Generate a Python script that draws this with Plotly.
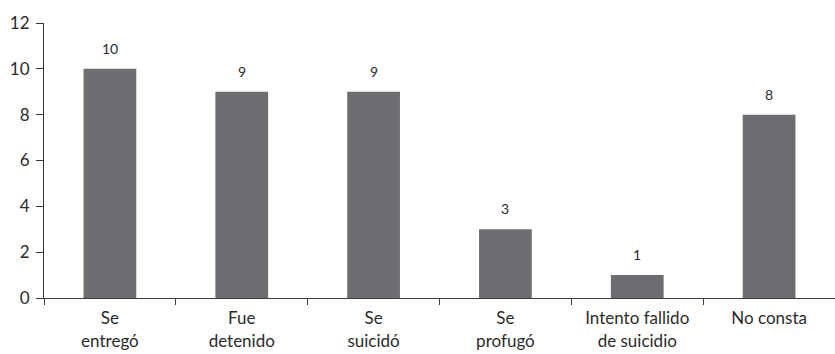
import plotly.graph_objects as go

categories = ["Se<br>entregó", "Fue<br>detenido", "Se<br>suicidó", "Se<br>profugó",
              "Intento fallido<br>de suicidio", "No consta"]
values = [10, 9, 9, 3, 1, 8]
y_ticks = [0, 2, 4, 6, 8, 10, 12]

FONT = "Lato, Noto Sans, sans-serif"
BAR = "#6d6e71"
AXIS = "#3a3a3a"
TXT = "#2b2b2b"

fig = go.Figure()
fig.add_trace(go.Bar(x=categories, y=values, marker_color=BAR, width=0.4,
                     marker_line_width=0, hoverinfo="skip"))
for c, v in zip(categories, values):
    fig.add_annotation(x=c, y=v, text=str(v), showarrow=False, yanchor="bottom",
                       yshift=10, font=dict(family=FONT, size=14, color=TXT))

fig.update_layout(
    width=835, height=354,
    margin=dict(l=44, r=0, t=23, b=56),
    paper_bgcolor="white", plot_bgcolor="white",
    showlegend=False,
    font=dict(family=FONT, size=17, color=TXT),
)
fig.update_xaxes(type="category", showline=True, linecolor=AXIS, linewidth=1,
                 ticks="outside", tickson="boundaries", ticklen=6, tickcolor=AXIS,
                 showgrid=False, automargin=False, ticklabelstandoff=5,
                 tickfont=dict(family=FONT, size=17, color=TXT))
fig.update_yaxes(range=[0, 12], tickvals=y_ticks, showline=True, linecolor=AXIS,
                 linewidth=1, ticks="outside", ticklen=7, tickcolor=AXIS,
                 showgrid=False, zeroline=False, automargin=False, ticklabelstandoff=3,
                 tickfont=dict(family=FONT, size=17, color=TXT))
fig.write_html("out.html", config={"displayModeBar": False},
               post_script="document.body.style.margin='0';document.body.style.overflow='hidden';")
